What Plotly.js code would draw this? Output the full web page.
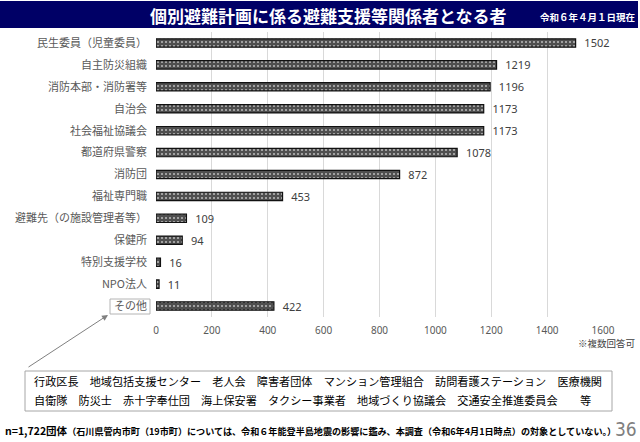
<!DOCTYPE html>
<html>
<head>
<meta charset="utf-8">
<script src="https://cdn.plot.ly/plotly-3.0.1.min.js"></script>
<style>
html,body{margin:0;padding:0;background:#fff;}
#chart{width:640px;height:442px;}
</style>
</head>
<body>
<div id="chart"></div>
<script>
// ---- data ----
const categories = ['民生委員（児童委員）','自主防災組織','消防本部・消防署等','自治会','社会福祉協議会','都道府県警察','消防団','福祉専門職','避難先（の施設管理者等）','保健所','特別支援学校','NPO法人','その他'];
const values = [1502, 1219, 1196, 1173, 1173, 1078, 872, 453, 109, 94, 16, 11, 422];
const xTicks = [0, 200, 400, 600, 800, 1000, 1200, 1400, 1600];
const titleText = '個別避難計画に係る避難支援等関係者となる者';
const dateText = '令和６年４月１日現在';
const noteText = '※複数回答可';
const otherLine1 = '行政区長　地域包括支援センター　老人会　障害者団体　マンション管理組合　訪問看護ステーション　医療機関';
const otherLine2 = '自衛隊　防災士　赤十字奉仕団　海上保安署　タクシー事業者　地域づくり協議会　交通安全推進委員会　　等';
const footBold = 'n=1,722団体';
const footRest = '（石川県管内市町（19市町）については、令和６年能登半島地震の影響に鑑み、本調査（令和6年4月1日時点）の対象としていない。）';
const pageNo = '36';

// ---- layout geometry ----
const W = 640, H = 442;
const L = 156, R = 603, T = 32, B = 317;
const px = x => (x - L) / (R - L);
const py = y => (B - y) / (B - T);
const JP = '"Noto Sans CJK JP", "Noto Sans", sans-serif';

const trace = {
  type: 'bar',
  orientation: 'h',
  y: categories,
  x: values,
  width: 0.38,
  marker: {
    color: '#4f4f4f',
    line: {color: '#111111', width: 1.2},
    pattern: {shape: '.', bgcolor: '#4f4f4f', fgcolor: '#bcbcbc', size: 4, solidity: 0.2}
  },
  text: values.map(v => '\u00a0\u00a0' + v),
  textposition: 'outside',
  constraintext: 'none',
  cliponaxis: false,
  textfont: {family: '"Noto Sans", sans-serif', size: 11, color: '#404040'},
  hoverinfo: 'none'
};

const layout = {
  width: W, height: H,
  margin: {l: L, r: W - R, t: T, b: H - B, pad: 0},
  paper_bgcolor: '#ffffff',
  plot_bgcolor: '#ffffff',
  showlegend: false,
  font: {family: JP, color: '#595959'},
  xaxis: {
    range: [0, 1600],
    tickvals: xTicks,
    ticktext: xTicks.map(String),
    showgrid: true,
    gridcolor: '#d9d9d9',
    gridwidth: 1,
    zeroline: false,
    showline: false,
    ticks: '',
    ticklabelstandoff: 6,
    tickfont: {family: '"Noto Sans", sans-serif', size: 10, color: '#595959'},
    fixedrange: true
  },
  yaxis: {
    type: 'category',
    categoryorder: 'array',
    categoryarray: categories,
    autorange: 'reversed',
    showgrid: false,
    zeroline: false,
    showline: false,
    ticks: '',
    ticklabelstandoff: 8,
    tickfont: {family: JP, size: 11, color: '#595959'},
    fixedrange: true
  },
  shapes: [
    // title bar
    {type: 'rect', xref: 'paper', yref: 'paper', x0: px(0), x1: px(638), y0: py(28), y1: py(1),
     fillcolor: '#000066', line: {width: 0}, layer: 'above'},
    // box around その他 label
    {type: 'rect', xref: 'paper', yref: 'paper', x0: px(110), x1: px(150), y0: py(314), y1: py(299),
     fillcolor: 'rgba(0,0,0,0)', line: {color: '#b4b4b4', width: 1}},
    // bottom box
    {type: 'rect', xref: 'paper', yref: 'paper', x0: px(25), x1: px(612), y0: py(411), y1: py(371),
     fillcolor: 'rgba(0,0,0,0)', line: {color: '#a6a6a6', width: 1}}
  ],
  annotations: [
    {text: '<b>' + titleText + '</b>', xref: 'paper', yref: 'paper', x: px(328), y: py(15),
     xanchor: 'center', yanchor: 'middle', showarrow: false,
     font: {family: JP, size: 17, color: '#ffffff'}},
    {text: '<b>' + dateText + '</b>', xref: 'paper', yref: 'paper', x: px(637), y: py(17),
     xanchor: 'right', yanchor: 'middle', showarrow: false,
     font: {family: JP, size: 9.5, color: '#ffffff'}},
    {text: noteText, xref: 'paper', yref: 'paper', x: px(637), y: py(343),
     xanchor: 'right', yanchor: 'middle', showarrow: false,
     font: {family: JP, size: 9.5, color: '#404040'}},
    {text: otherLine1, xref: 'paper', yref: 'paper', x: px(32), y: py(381),
     xanchor: 'left', yanchor: 'middle', showarrow: false,
     font: {family: JP, size: 11.15, color: '#000000'}},
    {text: otherLine2, xref: 'paper', yref: 'paper', x: px(32), y: py(400),
     xanchor: 'left', yanchor: 'middle', showarrow: false,
     font: {family: JP, size: 11.15, color: '#000000'}},
    {text: '<b>' + footBold + '</b><b><span style="font-size:9.1px">' + footRest + '</span></b>',
     xref: 'paper', yref: 'paper', x: px(3), y: py(430),
     xanchor: 'left', yanchor: 'middle', showarrow: false,
     font: {family: JP, size: 10.5, color: '#000000'}},
    {text: pageNo, xref: 'paper', yref: 'paper', x: px(639), y: py(429),
     xanchor: 'right', yanchor: 'middle', showarrow: false,
     font: {family: '"Liberation Sans Narrow", "DejaVu Sans Condensed", sans-serif', size: 19, color: '#7f7f7f'}},
    // arrow from bottom box to その他
    {text: '', xref: 'paper', yref: 'paper', x: px(108), y: py(315),
     ax: -81, ay: 53, axref: 'pixel', ayref: 'pixel',
     showarrow: true, arrowhead: 2, arrowsize: 1.2, arrowwidth: 1, arrowcolor: '#808080', standoff: 0}
  ]
};

Plotly.newPlot('chart', [trace], layout, {displayModeBar: false, staticPlot: true});
</script>
</body>
</html>
